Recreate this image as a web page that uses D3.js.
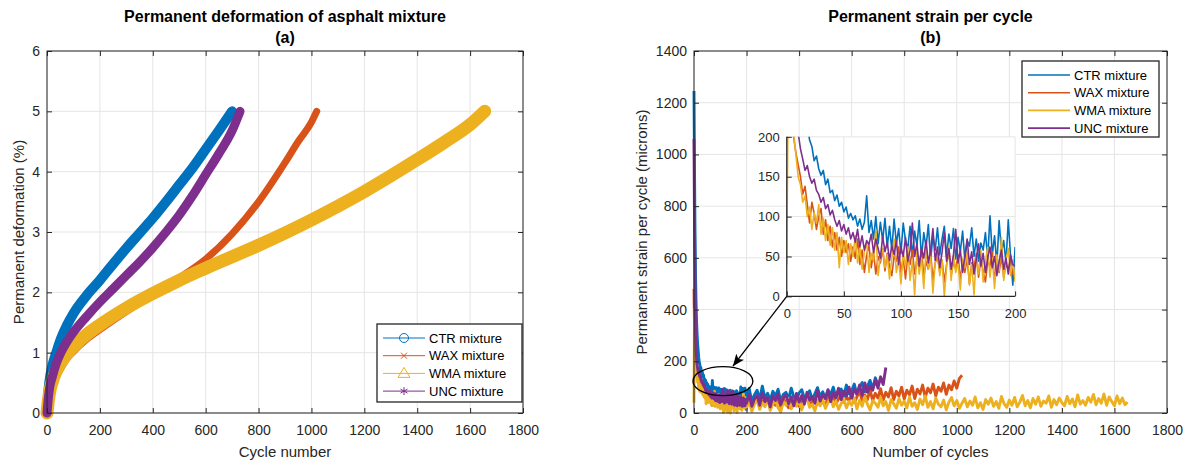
<!DOCTYPE html>
<html>
<head>
<meta charset="utf-8">
<script src="https://cdn.jsdelivr.net/npm/d3@7"></script>
<style>
body { margin: 0; background: #fff; }
svg { display: block; font-family: Arial, "Liberation Sans", sans-serif; }
</style>
</head>
<body>
<svg id="fig" width="1191" height="462"></svg>
<script>
// ---------------- data ----------------
var seriesNames = ['CTR mixture', 'WAX mixture', 'WMA mixture', 'UNC mixture'];
var colors = ['#0072BD', '#D95319', '#EDB120', '#7E2F8E'];

var cycleTicks = [0, 200, 400, 600, 800, 1000, 1200, 1400, 1600, 1800];
var deformTicks = [0, 1, 2, 3, 4, 5, 6];
var strainTicks = [0, 200, 400, 600, 800, 1000, 1200, 1400];
var insetTicks = [0, 50, 100, 150, 200];

// (a) permanent deformation (%) against cycle number
var ctrDefCycles = [0, 5, 10, 20, 35, 50, 75, 100, 150, 200, 250, 300, 350, 400, 450, 500, 550, 600, 650, 700];
var ctrDef = [0, 0.35, 0.55, 0.78, 1.0, 1.2, 1.45, 1.65, 1.95, 2.2, 2.47, 2.73, 2.98, 3.23, 3.5, 3.78, 4.06, 4.37, 4.68, 5.0];
var waxDefCycles = [0, 5, 10, 20, 35, 50, 75, 100, 150, 200, 300, 400, 500, 600, 700, 800, 900, 950, 1000, 1020];
var waxDef = [0, 0.15, 0.27, 0.42, 0.6, 0.72, 0.9, 1.02, 1.22, 1.38, 1.68, 1.96, 2.24, 2.55, 2.97, 3.5, 4.15, 4.5, 4.82, 5.0];
var wmaDefCycles = [0, 5, 10, 20, 35, 50, 75, 100, 150, 200, 300, 400, 500, 600, 800, 1000, 1200, 1400, 1500, 1600, 1655];
var wmaDef = [0, 0.2, 0.35, 0.52, 0.7, 0.82, 0.98, 1.1, 1.3, 1.46, 1.74, 1.98, 2.2, 2.4, 2.78, 3.2, 3.67, 4.2, 4.48, 4.78, 5.0];
var uncDefCycles = [0, 5, 10, 20, 35, 50, 75, 100, 150, 200, 250, 300, 350, 400, 450, 500, 550, 600, 650, 700, 730];
var uncDef = [0, 0.25, 0.42, 0.6, 0.82, 0.98, 1.18, 1.34, 1.6, 1.84, 2.06, 2.28, 2.5, 2.74, 3.0, 3.28, 3.6, 3.95, 4.3, 4.68, 5.0];

// (b) permanent strain per cycle (microns)
// first part: cycles 0, 2, 4 ... 198
var ctrStrainEarly = [1245, 930, 690, 520, 420, 350, 300, 265, 240, 215,
  196, 188, 170, 176, 160, 152, 158, 140, 147, 130,
  133, 120, 127, 113, 118, 106, 112, 98, 104, 96,
  101, 88, 97, 84, 93, 126, 80, 95, 72, 100,
  66, 93, 70, 98, 62, 88, 58, 97, 66, 85,
  54, 92, 70, 60, 88, 50, 82, 64, 95, 48,
  80, 62, 90, 45, 76, 58, 86, 52, 72, 88,
  50, 78, 60, 85, 47, 74, 56, 82, 45, 70,
  63, 86, 50, 72, 44, 67, 58, 80, 48, 101,
  52, 76, 40, 95, 55, 70, 42, 96, 50, 14];
var waxStrainEarly = [480, 330, 240, 200, 180, 165, 150, 128, 138, 115,
  92, 118, 104, 84, 100, 110, 78, 96, 70, 88,
  62, 80, 58, 74, 50, 70, 55, 66, 44, 62,
  48, 72, 40, 58, 30, 52, 64, 36, 56, 28,
  50, 42, 60, 32, 54, 38, 26, 50, 44, 62,
  30, 48, 22, 52, 40, 58, 28, 46, 36, 60,
  24, 44, 34, 55, 20, 42, 50, 30, 46, 18,
  40, 56, 26, 44, 34, 52, 22, 40, 30, 48,
  16, 42, 36, 54, 24, 46, 32, 18, 44, 38,
  56, 20, 42, 30, 50, 24, 40, 34, 46, 28];
var wmaStrainEarly = [40, 400, 260, 205, 178, 150, 140, 118, 126, 100,
  112, 84, 105, 92, 115, 78, 98, 70, 90, 64,
  86, 58, 80, 36, 74, 55, 70, 40, 66, 50,
  76, 42, 62, 34, 56, 68, 30, 54, 44, 84,
  26, 50, 60, 36, 52, 22, 48, 72, 30, 46,
  16, 54, 38, 62, 20, 44, 2, 56, 28, 48,
  10, 60, 34, 50, 4, 42, 58, 26, 46, 0,
  38, 64, 20, 52, 30, 44, 8, 48, 36, 56,
  14, 40, 2, 50, 28, 58, 18, 44, 62, 24,
  48, 10, 52, 32, 74, 20, 46, 60, 26, 44];
var uncStrainEarly = [1060, 720, 470, 320, 240, 205, 185, 172, 158, 164,
  150, 142, 147, 133, 128, 118, 124, 110, 115, 102,
  108, 96, 88, 95, 82, 90, 78, 86, 72, 80,
  68, 84, 62, 76, 58, 70, 65, 78, 55, 72,
  60, 48, 75, 56, 68, 45, 64, 52, 70, 40,
  62, 50, 74, 44, 58, 92, 50, 66, 38, 60,
  48, 70, 42, 58, 85, 45, 62, 36, 55, 80,
  44, 60, 34, 52, 84, 42, 58, 30, 50, 72,
  40, 56, 28, 46, 66, 38, 54, 30, 48, 62,
  36, 50, 26, 44, 58, 34, 48, 28, 52, 40];
// second part: cycles 200, 210, 220 ... to the end of each test
var ctrStrainLate = [62, 95, 44, 70, 88, 52, 104, 58, 76, 49,
  84, 66, 92, 45, 72, 80, 54, 96, 61, 48,
  78, 90, 57, 69, 86, 50, 74, 98, 63, 82,
  55, 88, 71, 100, 60, 79, 93, 66, 108, 74,
  86, 112, 70, 98, 118, 82, 104, 126, 92, 136, 110];
var waxStrainLate = [28, 50, 16, 40, 55, 22, 46, 34, 58, 18,
  44, 30, 52, 24, 60, 36, 20, 48, 38, 56,
  26, 50, 42, 62, 30, 46, 58, 34, 64, 40,
  28, 60, 44, 68, 36, 54, 70, 42, 62, 48,
  74, 40, 62, 86, 46, 70, 52, 90, 48, 76,
  58, 94, 50, 80, 62, 98, 52, 84, 66, 100,
  54, 88, 70, 104, 56, 92, 74, 108, 60, 96,
  78, 112, 66, 100, 84, 116, 72, 108, 90, 124,
  96, 134, 146];
var wmaStrainLate = [18, 46, 6, 34, 52, 14, 40, 24, 58, 10,
  36, 48, 20, 4, 44, 30, 56, 16, 38, 26,
  50, 12, 42, 60, 22, 34, 8, 48, 28, 54,
  18, 40, 62, 24, 46, 14, 36, 56, 20, 44,
  30, 58, 16, 50, 26, 64, 34, 12, 48, 38,
  22, 60, 28, 44, 10, 52, 36, 18, 56, 30,
  46, 20, 62, 26, 40, 14, 54, 32, 66, 22,
  44, 16, 58, 34, 24, 50, 12, 42, 60, 28,
  48, 18, 38, 56, 24, 46, 30, 62, 20, 40,
  14, 52, 34, 58, 26, 44, 18, 64, 36, 22,
  50, 30, 60, 24, 42, 68, 28, 48, 20, 56,
  34, 62, 26, 46, 38, 66, 22, 52, 32, 58,
  40, 28, 64, 36, 54, 24, 70, 34, 48, 30,
  60, 42, 72, 32, 56, 38, 74, 30, 62, 44,
  28, 66, 36, 58, 32, 42];
var uncStrainLate = [38, 72, 26, 55, 68, 30, 78, 44, 60, 24,
  66, 48, 74, 32, 58, 70, 36, 62, 28, 76,
  42, 68, 34, 80, 50, 64, 38, 86, 46, 72,
  56, 90, 44, 78, 60, 96, 52, 84, 66, 100,
  58, 92, 74, 108, 68, 116, 80, 104, 88, 128,
  96, 140, 110, 176];

// ---------------- layout ----------------
var svg = d3.select('#fig');
var ink = '#262626';
var gridColor = '#e5e5e5';
var fmt = d3.format('d');

var xA = d3.scaleLinear().domain([0, 1800]).range([47, 523]);
var yA = d3.scaleLinear().domain([0, 6]).range([413, 51]);
var xB = d3.scaleLinear().domain([0, 1800]).range([694, 1167]);
var yB = d3.scaleLinear().domain([0, 1400]).range([413, 51]);
// inset sits inside (b), its corners given in the main chart's units
var insetBox = {x0: 353, x1: 1222, y0: 451, y1: 1068};
var xI = d3.scaleLinear().domain([0, 200]).range([xB(insetBox.x0), xB(insetBox.x1)]);
var yI = d3.scaleLinear().domain([0, 200]).range([yB(insetBox.y0), yB(insetBox.y1)]);

function grid(g, x, y, xt, yt) {
    g.append('g').selectAll('line').data(xt).join('line')
        .attr('x1', d => x(d)).attr('x2', d => x(d))
        .attr('y1', y.range()[0]).attr('y2', y.range()[1])
        .attr('stroke', gridColor).attr('stroke-width', 1);
    g.append('g').selectAll('line').data(yt).join('line')
        .attr('y1', d => y(d)).attr('y2', d => y(d))
        .attr('x1', x.range()[0]).attr('x2', x.range()[1])
        .attr('stroke', gridColor).attr('stroke-width', 1);
}

function styleAxis(sel, fs) {
    sel.select('.domain').remove();
    sel.selectAll('line').attr('stroke', ink);
    sel.selectAll('text').attr('fill', ink).style('font-size', fs + 'px');
}

function axes(g, x, y, xt, yt, fs, box) {
    var L = x.range()[0], R = x.range()[1], B = y.range()[0], T = y.range()[1];
    g.append('g').attr('transform', 'translate(0,' + B + ')')
        .call(d3.axisBottom(x).tickValues(xt).tickFormat(fmt).tickSizeInner(-5).tickSizeOuter(0).tickPadding(12))
        .call(styleAxis, fs);
    g.append('g').attr('transform', 'translate(' + L + ',0)')
        .call(d3.axisLeft(y).tickValues(yt).tickFormat(fmt).tickSizeInner(-5).tickSizeOuter(0).tickPadding(7))
        .call(styleAxis, fs);
    if (box) {
        g.append('g').attr('transform', 'translate(0,' + T + ')')
            .call(d3.axisTop(x).tickValues(xt).tickSizeInner(-5).tickSizeOuter(0).tickFormat(''))
            .call(styleAxis, fs);
        g.append('g').attr('transform', 'translate(' + R + ',0)')
            .call(d3.axisRight(y).tickValues(yt).tickSizeInner(-5).tickSizeOuter(0).tickFormat(''))
            .call(styleAxis, fs);
        g.append('rect').attr('x', L).attr('y', T).attr('width', R - L).attr('height', B - T)
            .attr('fill', 'none').attr('stroke', ink).attr('stroke-width', 1);
    } else {
        g.append('path').attr('d', 'M' + L + ',' + T + 'V' + B + 'H' + R)
            .attr('fill', 'none').attr('stroke', ink).attr('stroke-width', 1.2);
    }
}

function titles(cx, line1, line2, xlab, ylab, ylabX) {
    svg.append('text').attr('x', cx).attr('y', 22).attr('text-anchor', 'middle')
        .style('font-size', '16px').style('font-weight', 'bold').text(line1);
    svg.append('text').attr('x', cx).attr('y', 43).attr('text-anchor', 'middle')
        .style('font-size', '16px').style('font-weight', 'bold').text(line2);
    svg.append('text').attr('x', cx).attr('y', 457).attr('text-anchor', 'middle')
        .attr('fill', ink).style('font-size', '15px').text(xlab);
    svg.append('text').attr('transform', 'translate(' + ylabX + ',232) rotate(-90)')
        .attr('text-anchor', 'middle').attr('fill', ink).style('font-size', '15px').text(ylab);
}

// ---------------- (a) ----------------
var gA = svg.append('g');
grid(gA, xA, yA, cycleTicks, deformTicks);

var defSeries = [
    {cycles: ctrDefCycles, vals: ctrDef, w: 10},
    {cycles: waxDefCycles, vals: waxDef, w: 7},
    {cycles: wmaDefCycles, vals: wmaDef, w: 13},
    {cycles: uncDefCycles, vals: uncDef, w: 9}
];
var lineA = d3.line().x(d => xA(d[0])).y(d => yA(d[1])).curve(d3.curveMonotoneX);
defSeries.forEach(function (s, i) {
    var pts = s.cycles.map((c, j) => [c, s.vals[j]]);
    gA.append('path').datum(pts).attr('d', lineA)
        .attr('fill', 'none').attr('stroke', colors[i]).attr('stroke-width', s.w)
        .attr('stroke-linejoin', 'round').attr('stroke-linecap', 'round');
});
axes(gA, xA, yA, cycleTicks, deformTicks, 14, true);
titles((xA.range()[0] + xA.range()[1]) / 2, 'Permanent deformation of asphalt mixture', '(a)',
    'Cycle number', 'Permanent deformation (%)', 24);

function marker(g, kind, cx, cy, col) {
    var m = g.append('g').attr('stroke', col).attr('fill', 'none').attr('stroke-width', 1);
    if (kind === 0) m.append('circle').attr('cx', cx).attr('cy', cy).attr('r', 4.5);
    if (kind === 1) m.append('path').attr('d', 'M' + (cx - 3) + ',' + (cy - 3) + 'l6,6M' + (cx - 3) + ',' + (cy + 3) + 'l6,-6');
    if (kind === 2) m.append('path').attr('d', 'M' + cx + ',' + (cy - 6) + 'L' + (cx + 6) + ',' + (cy + 4) + 'L' + (cx - 6) + ',' + (cy + 4) + 'Z');
    if (kind === 3) m.append('path').attr('d', 'M' + cx + ',' + (cy - 4) + 'v8M' + (cx - 3.5) + ',' + (cy - 2) + 'l7,4M' + (cx - 3.5) + ',' + (cy + 2) + 'l7,-4');
}

function legend(x0, y0, w, h, withMarkers) {
    var g = svg.append('g');
    g.append('rect').attr('x', x0).attr('y', y0).attr('width', w).attr('height', h)
        .attr('fill', '#fff').attr('stroke', ink).attr('stroke-width', 1.3);
    seriesNames.forEach(function (name, i) {
        var yy = y0 + 14 + i * 17.7;
        g.append('line').attr('x1', x0 + 6).attr('x2', x0 + 48).attr('y1', yy).attr('y2', yy)
            .attr('stroke', colors[i]).attr('stroke-width', withMarkers ? 1 : 1.6);
        if (withMarkers) marker(g, i, x0 + 27, yy, colors[i]);
        g.append('text').attr('x', x0 + 52).attr('y', yy + 4.5).attr('fill', '#000')
            .style('font-size', '13px').text(name);
    });
}
legend(377, 324, 145, 78, true);

// ---------------- (b) ----------------
var gB = svg.append('g');
grid(gB, xB, yB, cycleTicks, strainTicks);

var strainSeries = [
    {early: ctrStrainEarly, late: ctrStrainLate},
    {early: waxStrainEarly, late: waxStrainLate},
    {early: wmaStrainEarly, late: wmaStrainLate},
    {early: uncStrainEarly, late: uncStrainLate}
];
strainSeries.forEach(function (s) {
    s.pts = s.early.map((v, j) => [j * 2, v]).concat(s.late.map((v, j) => [200 + j * 10, v]));
});

var lineB = d3.line().x(d => xB(d[0])).y(d => yB(d[1]));
strainSeries.forEach(function (s, i) {
    gB.append('path').datum(s.pts).attr('d', lineB)
        .attr('fill', 'none').attr('stroke', colors[i]).attr('stroke-width', 2.9)
        .attr('stroke-linejoin', 'round');
});
axes(gB, xB, yB, cycleTicks, strainTicks, 14, true);
titles((xB.range()[0] + xB.range()[1]) / 2, 'Permanent strain per cycle', '(b)',
    'Number of cycles', 'Permanent strain per cycle (microns)', 647);

// ellipse around the early cycles and arrow to the inset
gB.append('ellipse').attr('cx', xB(110)).attr('cy', yB(123))
    .attr('rx', xB(114) - xB(0)).attr('ry', yB(0) - yB(56))
    .attr('fill', 'none').attr('stroke', '#000').attr('stroke-width', 1.3);

svg.append('defs').append('marker').attr('id', 'head')
    .attr('viewBox', '0 0 12 10').attr('refX', 12).attr('refY', 5)
    .attr('markerWidth', 12).attr('markerHeight', 10).attr('markerUnits', 'userSpaceOnUse')
    .attr('orient', 'auto')
    .append('path').attr('d', 'M0,0L12,5L0,10L3,5Z').attr('fill', '#000');

// inset
var gI = svg.append('g');
gI.append('rect').attr('x', xI.range()[0]).attr('y', yI.range()[1])
    .attr('width', xI.range()[1] - xI.range()[0]).attr('height', yI.range()[0] - yI.range()[1])
    .attr('fill', '#fff');
grid(gI, xI, yI, insetTicks, insetTicks);
svg.append('defs').append('clipPath').attr('id', 'insetClip').append('rect')
    .attr('x', xI.range()[0]).attr('y', yI.range()[1])
    .attr('width', xI.range()[1] - xI.range()[0]).attr('height', yI.range()[0] - yI.range()[1]);
var lineI = d3.line().x(d => xI(d[0])).y(d => yI(d[1]));
var gIData = gI.append('g').attr('clip-path', 'url(#insetClip)');
strainSeries.forEach(function (s, i) {
    gIData.append('path').datum(s.pts.filter(d => d[0] <= 200)).attr('d', lineI)
        .attr('fill', 'none').attr('stroke', colors[i]).attr('stroke-width', 1.6)
        .attr('stroke-linejoin', 'round');
});
axes(gI, xI, yI, insetTicks, insetTicks, 13, false);

svg.append('line').attr('x1', xI.range()[0]).attr('y1', yI.range()[0])
    .attr('x2', xB(148)).attr('y2', yB(181))
    .attr('stroke', '#000').attr('stroke-width', 1.3).attr('marker-end', 'url(#head)');

legend(1022, 61, 137, 76, false);
</script>
</body>
</html>
